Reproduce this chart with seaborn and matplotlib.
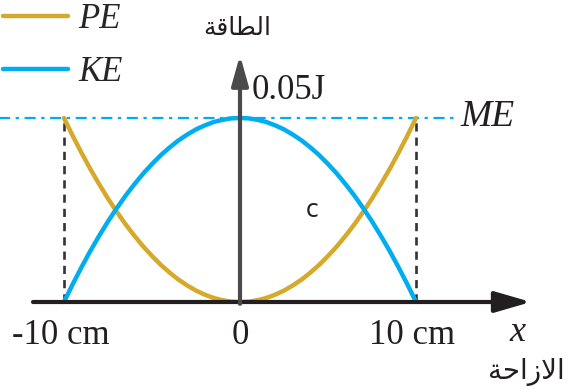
import pandas as pd
import matplotlib
matplotlib.use('Agg')
import matplotlib.pyplot as plt
import seaborn as sns

# displacement (cm) and energies (J), every half centimetre
x_cm = [-10, -9.5, -9, -8.5, -8, -7.5, -7, -6.5, -6, -5.5, -5, -4.5, -4, -3.5, -3, -2.5,
        -2, -1.5, -1, -0.5, 0, 0.5, 1, 1.5, 2, 2.5, 3, 3.5, 4, 4.5, 5, 5.5, 6, 6.5, 7,
        7.5, 8, 8.5, 9, 9.5, 10]
pe = [0.05, 0.0451, 0.0405, 0.0361, 0.032, 0.0281, 0.0245, 0.0211, 0.018, 0.0151, 0.0125,
      0.0101, 0.008, 0.0061, 0.0045, 0.0031, 0.002, 0.0011, 0.0005, 0.0001, 0.0,
      0.0001, 0.0005, 0.0011, 0.002, 0.0031, 0.0045, 0.0061, 0.008, 0.0101, 0.0125,
      0.0151, 0.018, 0.0211, 0.0245, 0.0281, 0.032, 0.0361, 0.0405, 0.0451, 0.05]
ke = [0.0, 0.0049, 0.0095, 0.0139, 0.018, 0.0219, 0.0255, 0.0289, 0.032, 0.0349, 0.0375,
      0.0399, 0.042, 0.0439, 0.0455, 0.0469, 0.048, 0.0489, 0.0495, 0.0499, 0.05,
      0.0499, 0.0495, 0.0489, 0.048, 0.0469, 0.0455, 0.0439, 0.042, 0.0399, 0.0375,
      0.0349, 0.032, 0.0289, 0.0255, 0.0219, 0.018, 0.0139, 0.0095, 0.0049, 0.0]
me = 0.05
amplitude = 10
x_ticks = [-10, 0, 10]
x_tick_labels = ['-10 cm', '0', '10 cm']

# Arabic labels written in shaped presentation forms (visual order), since
# matplotlib does no Arabic shaping: "الطاقة" and "الازاحة"
energy_label = '\ufe94\ufed7\ufe8e\ufec4\ufedf\ufe8d'
disp_label = '\ufe94\ufea3\ufe8d\ufeaf\ufefb\ufe8d'

GOLD = '#d6a92b'
BLUE = '#00adee'
INK = '#231f20'

sns.set_style('white')
plt.rcParams['font.family'] = ['Liberation Serif', 'DejaVu Sans']

data = pd.DataFrame({
    'x': x_cm * 2,
    'E': pe + ke,
    'kind': ['PE'] * len(x_cm) + ['KE'] * len(x_cm),
})

fig = plt.figure(figsize=(5.71, 3.89), dpi=100)
ax = fig.add_axes([0, 0, 1, 1])

sns.lineplot(data=data, x='x', y='E', hue='kind', palette={'PE': GOLD, 'KE': BLUE},
             linewidth=3.2, sort=False, ax=ax, zorder=3)

# total energy line and amplitude markers
ax.plot([-13.7, 12.2], [me, me], color=BLUE, lw=1.6, linestyle=(0, (5, 2.5, 1.5, 2.5)), zorder=2)
for xa in (-amplitude, amplitude):
    ax.plot([xa, xa], [0, me], color='#333333', lw=1.9, linestyle=(0, (3.1, 2.3)), zorder=2)

# axes with arrows
ax.annotate('', xy=(16.53, 0), xytext=(-11.76, 0),
            arrowprops=dict(arrowstyle='-|>,head_length=1.1,head_width=0.32', mutation_scale=20,
                            lw=3, color=INK, shrinkA=0, shrinkB=0), zorder=5)
ax.annotate('', xy=(0, 0.0671), xytext=(0, -0.0005),
            arrowprops=dict(arrowstyle='-|>,head_length=1.0,head_width=0.28', mutation_scale=18,
                            lw=3, color='#4a4a4a', shrinkA=0, shrinkB=0), zorder=5)

# tick labels
tick_x = {-10: -10.17, 0: 0, 10: 9.77}
for t, lab in zip(x_ticks, x_tick_labels):
    ax.text(tick_x[t], -0.009, lab, ha='center', va='center', fontsize=25, color=INK)

ax.text(0.68, 0.0576, '0.05J', ha='left', va='center', fontsize=25, color=INK)
ax.text(14.09, 0.0503, 'ME', ha='center', va='center', fontsize=27, style='italic', color=INK)
ax.text(15.74, -0.0082, 'x', ha='center', va='center', fontsize=26, style='italic', color=INK)
ax.text(4.09, 0.025, 'c', ha='center', va='center', fontsize=17, family='DejaVu Sans', color=INK)
ax.text(-0.17, 0.0745, energy_label, ha='center', va='center', fontsize=18,
        family='DejaVu Sans', color=INK)
ax.text(16.25, -0.019, disp_label, ha='center', va='center', fontsize=20,
        family='DejaVu Sans', color=INK)

handles, labels = ax.get_legend_handles_labels()
ax.legend(handles, labels, loc='upper left', bbox_to_anchor=(0, 1), frameon=False,
          prop={'family': 'Liberation Serif', 'style': 'italic', 'size': 25},
          handlelength=1.85, handletextpad=0.3, labelspacing=0.56,
          borderpad=0.0, borderaxespad=0.1)

ax.set_xlim(-240 / 17.6, 331 / 17.6)
ax.set_ylim(-87 / 3680, 302 / 3680)
ax.set_axis_off()

fig.savefig('out.png', dpi=100)
